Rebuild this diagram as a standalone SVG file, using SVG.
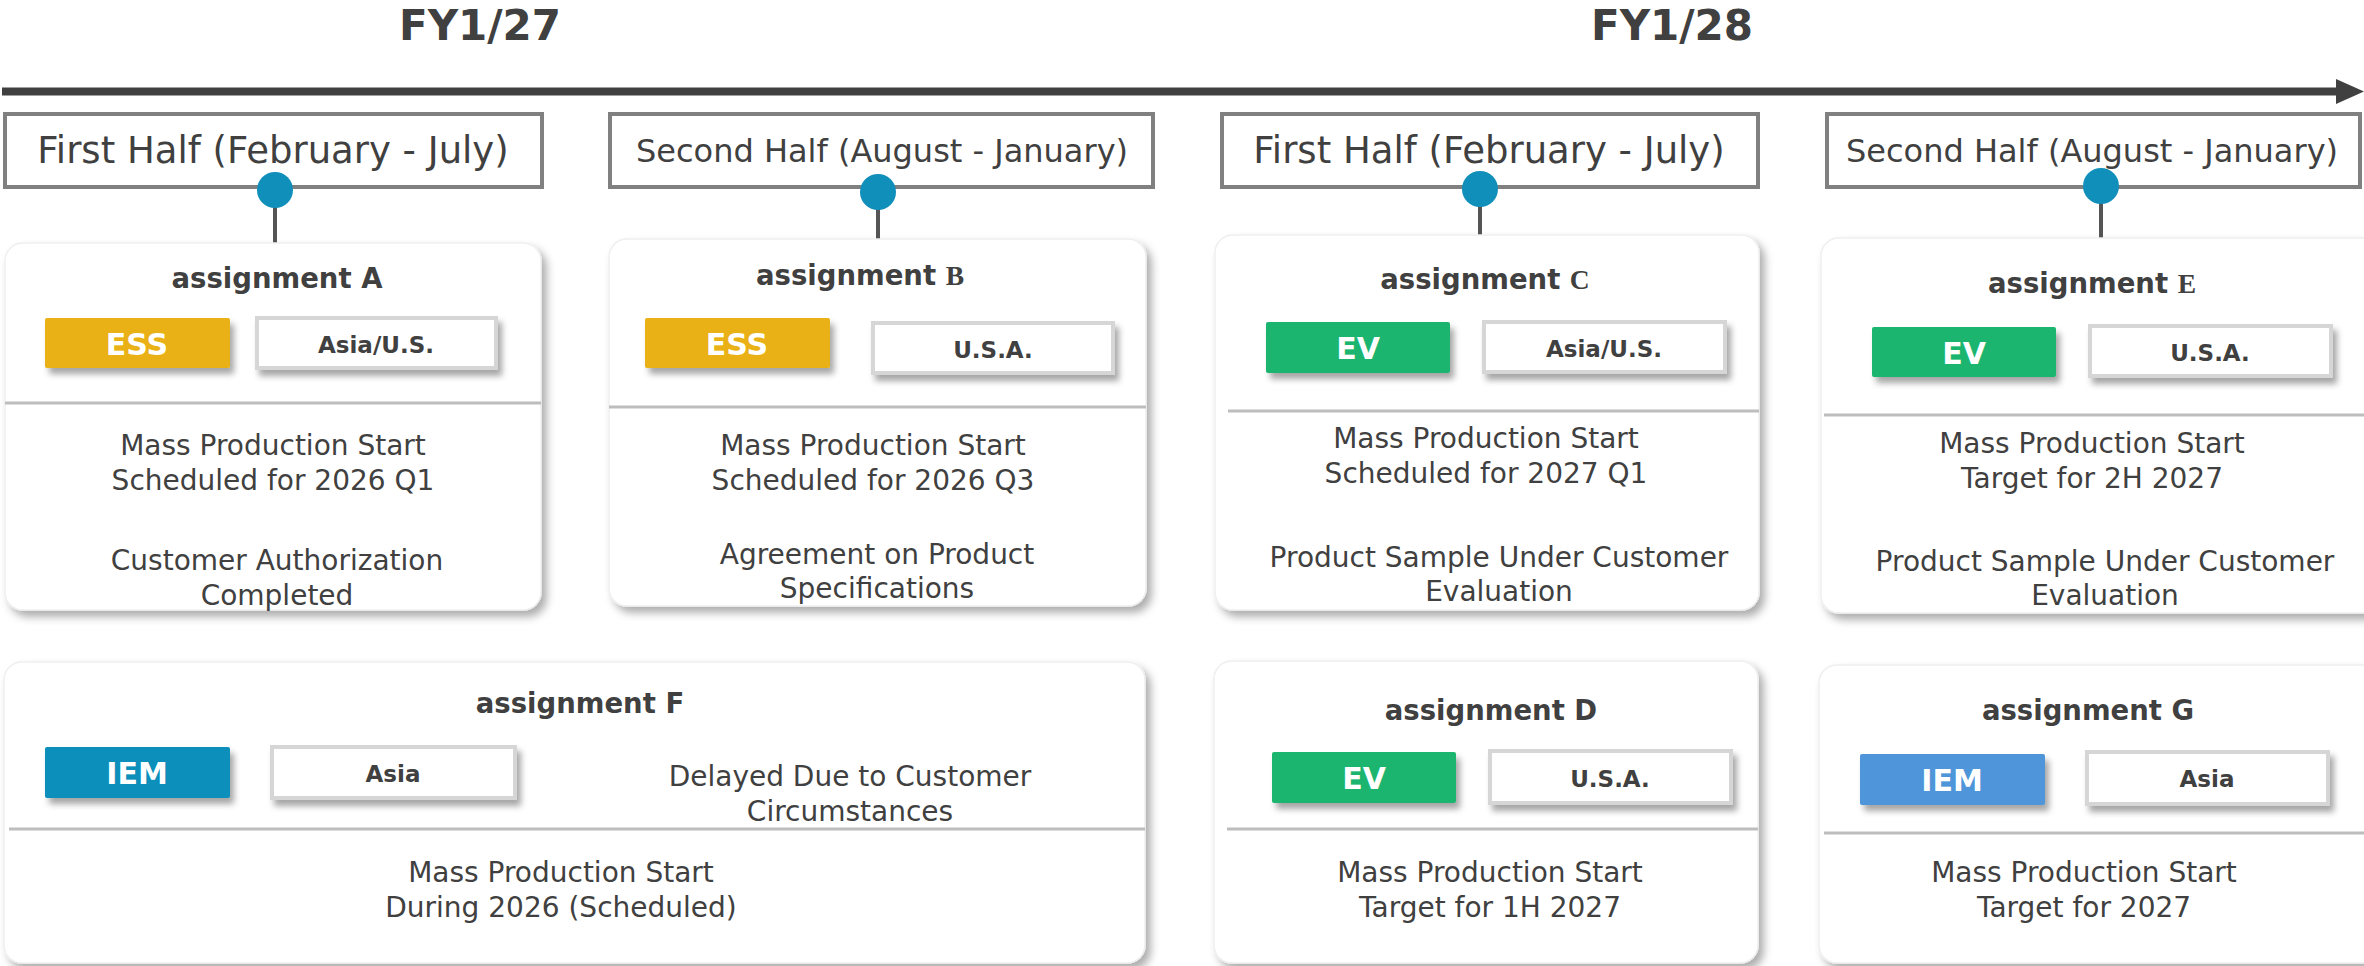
<svg xmlns="http://www.w3.org/2000/svg" width="2364" height="966" viewBox="0 0 2364 966">
<defs>
<filter id="sh" x="-10%" y="-10%" width="125%" height="130%">
<feDropShadow dx="5" dy="6" stdDeviation="4" flood-color="#000" flood-opacity="0.32"/>
</filter>
<filter id="sh2" x="-10%" y="-20%" width="125%" height="160%">
<feDropShadow dx="4" dy="6" stdDeviation="3" flood-color="#000" flood-opacity="0.35"/>
</filter>
<marker id="ah" viewBox="0 0 10 10" refX="0" refY="5" markerWidth="3.2" markerHeight="3" orient="auto" markerUnits="strokeWidth">
<path d="M0,0 L10,5 L0,10 z" fill="#404040"/>
</marker>
</defs>
<style>
text{font-family:"DejaVu Sans","Verdana",sans-serif;fill:#404040;text-anchor:middle}
.fy{font-size:42px;font-weight:bold}
.hb{fill:#fff;stroke:#808080;stroke-width:4}
.h1{font-size:37px}
.h2{font-size:32px}
.card{fill:#fff;stroke:#efefef;stroke-width:1.5;filter:url(#sh)}
.ttl{font-size:27.5px;font-weight:bold}
.ser{font-family:"Liberation Serif",serif}
.tag{font-size:30px;font-weight:bold;fill:#fff}
.reg{fill:#fff;stroke:#d6d6d6;stroke-width:4;filter:url(#sh2)}
.rt{font-size:23px;font-weight:bold}
.bd{font-size:28px}
.dv{stroke:#bdbdbd;stroke-width:3}
.pin{fill:#118FBB}
.stem{stroke:#555;stroke-width:4}
</style>

<g id="timeline">
<text class="fy" x="480" y="40">FY1/27</text>
<text class="fy" x="1672" y="40">FY1/28</text>
<line x1="2" y1="91.5" x2="2338" y2="91.5" stroke="#404040" stroke-width="8"/>
<polygon points="2336,79 2364,91.5 2336,104" fill="#404040"/>
</g>

<g id="half1">
<rect class="hb" x="5" y="114" width="537" height="73"/>
<text class="h1" x="273" y="163">First Half (February - July)</text>
</g>
<g id="half2">
<rect class="hb" x="610" y="114" width="543" height="73"/>
<text class="h2" x="882" y="162">Second Half (August - January)</text>
</g>
<g id="half3">
<rect class="hb" x="1222" y="114" width="536" height="73"/>
<text class="h1" x="1489" y="163">First Half (February - July)</text>
</g>
<g id="half4">
<rect class="hb" x="1827" y="114" width="533" height="73"/>
<text class="h2" x="2092" y="162">Second Half (August - January)</text>
</g>

<g id="connectors">
<line class="stem" x1="275" y1="195" x2="275" y2="244"/>
<line class="stem" x1="878" y1="197" x2="878" y2="244"/>
<line class="stem" x1="1480" y1="194" x2="1480" y2="241"/>
<line class="stem" x1="2101" y1="191" x2="2101" y2="239"/>
<circle class="pin" cx="275" cy="190" r="18"/>
<circle class="pin" cx="878" cy="192" r="18"/>
<circle class="pin" cx="1480" cy="189" r="18"/>
<circle class="pin" cx="2101" cy="186" r="18"/>
</g>

<g id="cardA">
<rect class="card" x="5" y="243" width="536" height="367" rx="18"/>
<text class="ttl" x="277" y="288">assignment A</text>
<rect x="45" y="318" width="185" height="50" rx="2" fill="#E9B112" filter="url(#sh2)"/>
<text class="tag" x="137" y="355">ESS</text>
<rect class="reg" x="257" y="318" width="239" height="50"/>
<text class="rt" x="376" y="353">Asia/U.S.</text>
<line class="dv" x1="5" y1="403" x2="541" y2="403"/>
<text class="bd" x="273" y="455">Mass Production Start</text>
<text class="bd" x="273" y="490">Scheduled for 2026 Q1</text>
<text class="bd" x="277" y="570">Customer Authorization</text>
<text class="bd" x="277" y="605">Completed</text>
</g>

<g id="cardB">
<rect class="card" x="609" y="239" width="537" height="367" rx="18"/>
<text class="ttl" x="860" y="285">assignment <tspan class="ser">B</tspan></text>
<rect x="645" y="318" width="185" height="50" rx="2" fill="#E9B112" filter="url(#sh2)"/>
<text class="tag" x="737" y="355">ESS</text>
<rect class="reg" x="873" y="323" width="240" height="50"/>
<text class="rt" x="993" y="358">U.S.A.</text>
<line class="dv" x1="609" y1="407" x2="1146" y2="407"/>
<text class="bd" x="873" y="455">Mass Production Start</text>
<text class="bd" x="873" y="490">Scheduled for 2026 Q3</text>
<text class="bd" x="877" y="564">Agreement on Product</text>
<text class="bd" x="877" y="598">Specifications</text>
</g>

<g id="cardC">
<rect class="card" x="1215" y="235" width="544" height="375" rx="18"/>
<text class="ttl" x="1485" y="289">assignment <tspan class="ser">C</tspan></text>
<rect x="1266" y="322" width="184" height="51" rx="2" fill="#1DB56F" filter="url(#sh2)"/>
<text class="tag" x="1358" y="359">EV</text>
<rect class="reg" x="1484" y="322" width="241" height="50"/>
<text class="rt" x="1604" y="357">Asia/U.S.</text>
<line class="dv" x1="1228" y1="411" x2="1759" y2="411"/>
<text class="bd" x="1486" y="448">Mass Production Start</text>
<text class="bd" x="1486" y="483">Scheduled for 2027 Q1</text>
<text class="bd" x="1499" y="567">Product Sample Under Customer</text>
<text class="bd" x="1499" y="601">Evaluation</text>
</g>

<g id="cardE">
<rect class="card" x="1821" y="238" width="560" height="375" rx="18"/>
<text class="ttl" x="2092" y="293">assignment <tspan class="ser">E</tspan></text>
<rect x="1872" y="327" width="184" height="50" rx="2" fill="#1DB56F" filter="url(#sh2)"/>
<text class="tag" x="1964" y="364">EV</text>
<rect class="reg" x="2090" y="326" width="241" height="50"/>
<text class="rt" x="2210" y="361">U.S.A.</text>
<line class="dv" x1="1824" y1="415" x2="2364" y2="415"/>
<text class="bd" x="2092" y="453">Mass Production Start</text>
<text class="bd" x="2092" y="488">Target for 2H 2027</text>
<text class="bd" x="2105" y="571">Product Sample Under Customer</text>
<text class="bd" x="2105" y="605">Evaluation</text>
</g>

<g id="cardF">
<rect class="card" x="4" y="662" width="1141" height="301" rx="18"/>
<text class="ttl" x="580" y="713">assignment F</text>
<rect x="45" y="747" width="185" height="51" rx="2" fill="#118FBB" filter="url(#sh2)"/>
<text class="tag" x="137" y="784">IEM</text>
<rect class="reg" x="272" y="747" width="243" height="51"/>
<text class="rt" x="393" y="782">Asia</text>
<text class="bd" x="850" y="786">Delayed Due to Customer</text>
<text class="bd" x="850" y="821">Circumstances</text>
<line class="dv" x1="9" y1="829" x2="1145" y2="829"/>
<text class="bd" x="561" y="882">Mass Production Start</text>
<text class="bd" x="561" y="917">During 2026 (Scheduled)</text>
</g>

<g id="cardD">
<rect class="card" x="1214" y="661" width="544" height="302" rx="18"/>
<text class="ttl" x="1491" y="720">assignment D</text>
<rect x="1272" y="752" width="184" height="51" rx="2" fill="#1DB56F" filter="url(#sh2)"/>
<text class="tag" x="1364" y="789">EV</text>
<rect class="reg" x="1490" y="751" width="241" height="52"/>
<text class="rt" x="1610" y="787">U.S.A.</text>
<line class="dv" x1="1227" y1="829" x2="1758" y2="829"/>
<text class="bd" x="1490" y="882">Mass Production Start</text>
<text class="bd" x="1490" y="917">Target for 1H 2027</text>
</g>

<g id="cardG">
<rect class="card" x="1819" y="665" width="562" height="298" rx="18"/>
<text class="ttl" x="2088" y="720">assignment G</text>
<rect x="1860" y="754" width="185" height="51" rx="2" fill="#4F95D9" filter="url(#sh2)"/>
<text class="tag" x="1952" y="791">IEM</text>
<rect class="reg" x="2087" y="752" width="241" height="52"/>
<text class="rt" x="2207" y="787">Asia</text>
<line class="dv" x1="1824" y1="833" x2="2364" y2="833"/>
<text class="bd" x="2084" y="882">Mass Production Start</text>
<text class="bd" x="2084" y="917">Target for 2027</text>
</g>
</svg>
